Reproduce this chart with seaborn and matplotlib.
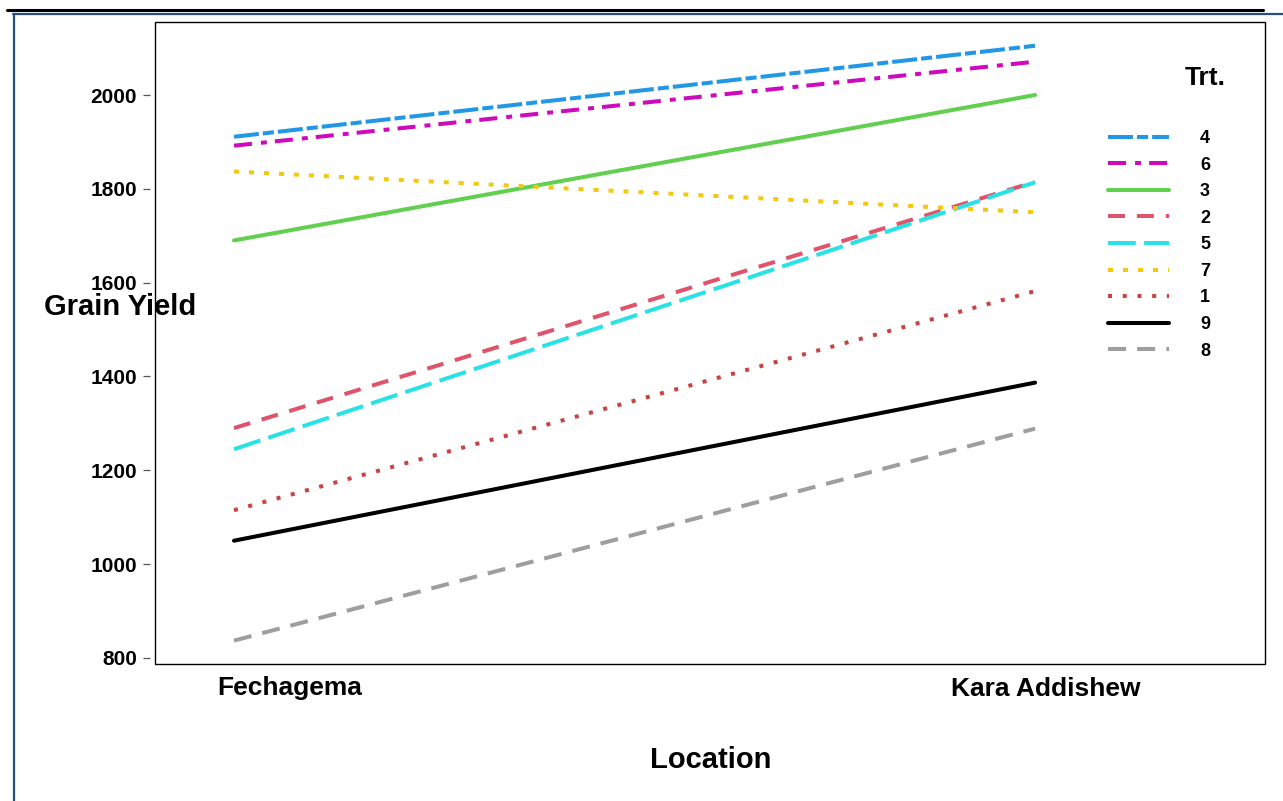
import numpy as np
import pandas as pd
import matplotlib
matplotlib.use("Agg")
import matplotlib.pyplot as plt
import seaborn as sns
from matplotlib.transforms import ScaledTranslation
from matplotlib.patches import Rectangle
from matplotlib.lines import Line2D

# ---- data ----
locations = ["Fechagema", "Kara Addishew"]
treatments = ["4", "6", "3", "2", "5", "7", "1", "9", "8"]
yield_fechagema = [1911, 1892, 1690, 1290, 1245, 1837, 1115, 1050, 837]
yield_kara_addishew = [2105, 2071, 2000, 1815, 1814, 1750, 1582, 1387, 1289]
y_ticks = [800, 1000, 1200, 1400, 1600, 1800, 2000]

colors = {"4": "#2297E6", "6": "#CD0BBC", "3": "#61D04F", "2": "#DF536B",
          "5": "#28E2E5", "7": "#F5C710", "1": "#C84444", "9": "#000000",
          "8": "#9E9E9E"}
dash_styles = {"4": (18, 2.9, 8, 2.9), "6": (13, 6.5, 4.3, 5.8), "3": "",
               "2": (12.2, 8.6), "5": (20, 6), "7": (3.6, 7.2),
               "1": (2.9, 7.7), "9": "", "8": (13, 8)}

rows = []
for t, a, b in zip(treatments, yield_fechagema, yield_kara_addishew):
    rows.append({"Trt.": t, "pos": 0, "Location": locations[0], "Grain Yield": a})
    rows.append({"Trt.": t, "pos": 1, "Location": locations[1], "Grain Yield": b})
df = pd.DataFrame(rows)

sns.set_style("white")
plt.rcParams["font.family"] = ["Liberation Sans", "DejaVu Sans"]
plt.rcParams["lines.scale_dashes"] = False
for k in ["text.color", "axes.labelcolor", "xtick.color", "ytick.color"]:
    plt.rcParams[k] = "black"

W, H = 1283, 801
fig = plt.figure(figsize=(W / 100, H / 100), dpi=100)
ax = fig.add_axes([155 / W, 1 - 664 / H, 1110 / W, 642 / H])

sns.lineplot(data=df, x="pos", y="Grain Yield", hue="Trt.", style="Trt.",
             hue_order=treatments, style_order=treatments,
             palette=colors, dashes=dash_styles, linewidth=2.9,
             ax=ax, legend=True)

ax.set_xlim(-0.0986, 1.287)
ax.set_ylim(787.2, 2155.6)

# frame
for s in ax.spines.values():
    s.set_visible(False)
ax.spines["left"].set_position(("outward", 3.6))
ax.add_patch(Rectangle((0, 0), 1, 1, transform=ax.transAxes, fill=False,
                       lw=1.0, ec="black", clip_on=False, zorder=5))

ax.set_yticks(y_ticks)
ax.set_yticklabels([str(v) for v in y_ticks], fontsize=15, fontweight="bold")
ax.tick_params(axis="y", left=True, length=5, width=0.9, color="#555555",
               labelcolor="black", pad=4.3)

ax.set_xticks([0, 1])
ax.set_xticklabels(locations, fontsize=19, fontweight="bold")
ax.tick_params(axis="x", length=0, pad=9, labelcolor="black")
for lab, dx in zip(ax.get_xticklabels(), [56, 11]):
    lab.set_transform(lab.get_transform() + ScaledTranslation(dx / 100, 0, fig.dpi_scale_trans))

ax.set_xlabel("Location", fontsize=21, fontweight="bold")
ax.xaxis.set_label_coords(0.501, -0.1495)
ax.xaxis.label.set_va("center")
ax.set_ylabel("Grain Yield", fontsize=21, fontweight="bold", rotation=0,
              ha="center", va="center")
ax.yaxis.set_label_coords(-0.0315, 0.556)

sns.move_legend(ax, loc="upper left", bbox_to_anchor=(1108 / W, 1 - 130 / H),
                bbox_transform=fig.transFigure, frameon=False, title=None,
                prop={"weight": "bold", "size": 13},
                handlelength=3.4, handletextpad=1.7, labelspacing=0.53,
                borderpad=0, borderaxespad=0)
fig.text(1205 / W, 1 - 78 / H, "Trt.", ha="center", va="center",
         fontsize=19, fontweight="bold")

# page decorations
fig.add_artist(Line2D([7 / W, 1263 / W], [1 - 9.5 / H, 1 - 9.5 / H],
                      transform=fig.transFigure, color="black", lw=2.2))
fig.add_artist(Line2D([13 / W, 1.0], [1 - 13.5 / H, 1 - 13.5 / H],
                      transform=fig.transFigure, color="#2B4C8C", lw=1.6))
fig.add_artist(Line2D([14 / W, 14 / W], [1 - 13.5 / H, 0],
                      transform=fig.transFigure, color="#2B4C8C", lw=1.6))

fig.savefig("out.png", dpi=100)
